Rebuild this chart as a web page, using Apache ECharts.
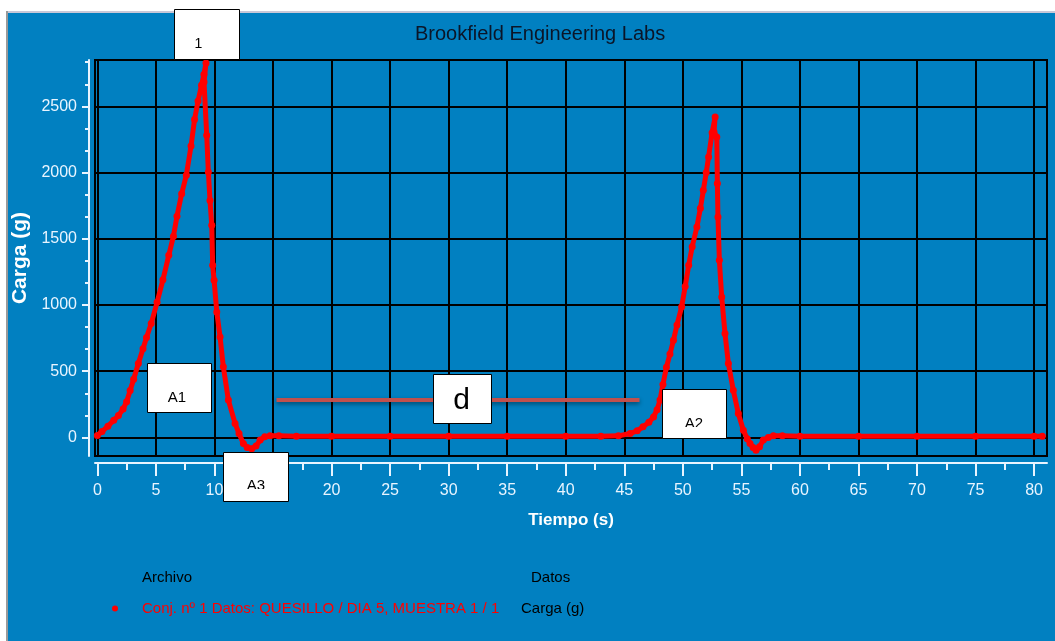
<!DOCTYPE html>
<html>
<head>
<meta charset="utf-8">
<script src="https://cdn.jsdelivr.net/npm/echarts@6/dist/echarts.min.js"></script>
<style>
html, body { margin: 0; padding: 0; background: #fff; }
#chart { width: 1055px; height: 641px; }
</style>
</head>
<body>
<div id="chart"></div>
<script>
var titulo = 'Brookfield Engineering Labs'
var nombreSerie = 'Conj. nº 1 Datos: QUESILLO / DIA 5, MUESTRA 1 / 1'
var nombreX = 'Tiempo (s)'
var nombreY = 'Carga (g)'

var tiempo = [0.0, 0.4, 0.9, 1.4, 1.8, 2.2, 2.5, 2.8, 3.1, 3.5, 3.9, 4.2, 4.6, 5.1, 5.6, 6.1, 6.5, 6.8, 7.2, 7.6,
    8.0, 8.3, 8.6, 8.9, 9.1, 9.28, 9.11, 9.34, 9.48, 9.62, 9.77, 9.85, 9.97, 10.2, 10.48, 10.76, 11.19, 11.76, 12.1, 12.47,
    12.8, 13.18, 13.55, 13.9, 14.3, 14.75, 15.5, 17, 20, 25, 30, 35, 40, 43, 44.5, 45.5, 46.1, 46.6, 47.1, 47.5,
    47.8, 48.05, 48.3, 48.6, 48.9, 49.2, 49.5, 49.9, 50.2, 50.5, 50.8, 51.2, 51.5, 51.75, 52.0, 52.2, 52.5, 52.76, 52.66, 52.9,
    52.95, 53.0, 53.12, 53.32, 53.6, 53.89, 54.31, 54.74, 55.17, 55.5, 55.74, 56.0, 56.25, 56.55, 56.87, 57.3, 57.73, 58.5, 60, 65,
    70, 75, 80, 80.7]
var carga = [15, 45, 85, 130, 165, 215, 270, 355, 440, 558, 670, 755, 860, 1020, 1190, 1375, 1520, 1670, 1840, 1980,
    2200, 2400, 2540, 2660, 2740, 2827, 2684, 2282, 2005, 1790, 1602, 1300, 1187, 948, 759, 533, 282, 106, 30, -45,
    -75, -85, -65, -20, 5, 12, 12, 10, 10, 10, 10, 10, 10, 10, 12, 30, 50, 80, 115, 155,
    210, 282, 400, 530, 630, 734, 850, 986, 1140, 1300, 1440, 1589, 1730, 1866, 2000, 2118, 2300, 2420, 2306, 2269,
    1917, 1665, 1338, 1061, 785, 558, 357, 181, 55, -10, -45, -75, -96, -70, -20, 0, 12, 12, 10, 10,
    10, 10, 10, 10]

var ticksX = [0, 5, 10, 15, 20, 25, 30, 35, 40, 45, 50, 55, 60, 65, 70, 75, 80]
var ticksXMenores = [2.5, 7.5, 12.5, 17.5, 22.5, 27.5, 32.5, 37.5, 42.5, 47.5, 52.5, 57.5, 62.5, 67.5, 72.5, 77.5]
var ticksY = [0, 500, 1000, 1500, 2000, 2500]
var ticksYMenores = [166.7, 333.3, 666.7, 833.3, 1166.7, 1333.3, 1666.7, 1833.3, 2166.7, 2333.3, 2666.7, 2833.3]

// linea "d" entre los dos picos (tiempo inicio, tiempo fin, carga)
var lineaD = [15.3, 46.3, 281]

var AZUL = '#0180c1'
var BLANCO_EJE = '#e8f4ff'
var ARIAL = "'Liberation Sans', Arial, sans-serif"

function caja(x, y, w, h, texto, cx, cy, size, corte) {
    var els = [{
        type: 'rect', z: 100,
        shape: { x: x + 0.5, y: y + 0.5, width: w, height: h },
        style: { fill: '#fff', stroke: '#000', lineWidth: 1 }
    }, {
        type: 'text', z: 101, x: cx, y: cy,
        style: { text: texto, fill: '#000', font: size + 'px ' + ARIAL, align: 'center', verticalAlign: 'middle' }
    }]
    if (corte) {
        els.push({
            type: 'rect', z: 102,
            shape: { x: x + 1.5, y: corte, width: w - 2, height: y + h - corte },
            style: { fill: '#fff' }
        })
    }
    return els
}

var chart = echarts.init(document.getElementById('chart'))

var datos = tiempo.map(function(t, i) { return [t, carga[i]] })

var graficos = [
    { type: 'rect', shape: { x: 0, y: 0, width: 1055, height: 11 }, style: { fill: '#fff' } },
    { type: 'rect', shape: { x: 0, y: 11, width: 1055, height: 2 }, style: { fill: '#c8c8d8' } },
    { type: 'rect', shape: { x: 0, y: 0, width: 6, height: 641 }, style: { fill: '#fff' } },
    { type: 'rect', shape: { x: 6, y: 11, width: 2, height: 630 }, style: { fill: '#9a9a9a' } },
    { type: 'text', x: 142, y: 578, style: { text: 'Archivo', fill: '#000', font: '15px ' + ARIAL, verticalAlign: 'middle' } },
    { type: 'text', x: 531, y: 578, style: { text: 'Datos', fill: '#000', font: '15px ' + ARIAL, verticalAlign: 'middle' } },
    { type: 'text', x: 521, y: 609, style: { text: 'Carga (g)', fill: '#000', font: '15px ' + ARIAL, verticalAlign: 'middle' } }
]
graficos = graficos
    .concat(caja(174, 9, 65, 50, '1', 198.5, 44, 14))
    .concat(caja(147, 363, 64, 49, 'A1', 177, 398, 15))
    .concat(caja(223, 452, 65, 49, 'A3', 256, 486, 15, 489))
    .concat(caja(662, 389, 64, 49, 'A2', 694, 424, 15, 427))
    .concat(caja(433, 374, 58, 49, 'd', 461.5, 401, 30))

chart.setOption({
    backgroundColor: AZUL,
    animation: false,
    title: {
        text: titulo,
        left: 415, top: 24, padding: 0,
        textStyle: { color: '#0b1528', fontFamily: ARIAL, fontSize: 20, fontWeight: 'normal' }
    },
    legend: {
        data: [{ name: nombreSerie, icon: 'circle' }],
        left: 112, top: 601, padding: 0,
        itemWidth: 6, itemHeight: 6,
        selectedMode: false,
        textStyle: { color: '#ff0000', fontFamily: ARIAL, fontSize: 15, padding: [0, 0, 0, 19] }
    },
    grid: {
        left: 95, right: 8, top: 60, bottom: 185,
        outerBoundsMode: 'none', containLabel: false,
        show: true, borderColor: '#000', borderWidth: 2, backgroundColor: 'transparent'
    },
    xAxis: [{
        type: 'value', min: -0.2, max: 81.1,
        position: 'bottom', offset: 7,
        name: nombreX, nameLocation: 'middle', nameGap: 49,
        nameTextStyle: { color: '#fff', fontFamily: ARIAL, fontSize: 17, fontWeight: 'bold' },
        axisLine: { show: true, onZero: false, lineStyle: { color: BLANCO_EJE, width: 2 } },
        axisTick: { show: true, customValues: ticksX, length: 13, lineStyle: { color: BLANCO_EJE, width: 2 } },
        axisLabel: {
            customValues: ticksX, margin: 20, color: BLANCO_EJE, fontFamily: ARIAL, fontSize: 16,
            formatter: function(v) { return String(v) }
        },
        splitLine: { show: true, lineStyle: { color: '#000', width: 2 } }
    }, {
        type: 'value', min: -0.2, max: 81.1,
        position: 'bottom', offset: 7,
        axisLine: { show: false, onZero: false },
        axisTick: { show: true, customValues: ticksXMenores, length: 7, lineStyle: { color: BLANCO_EJE, width: 2 } },
        axisLabel: { show: false },
        splitLine: { show: false }
    }],
    yAxis: [{
        type: 'value', min: -140, max: 2850,
        position: 'left', offset: 6,
        name: nombreY, nameLocation: 'middle', nameGap: 47, nameRotate: 90,
        nameTextStyle: { color: '#fff', fontFamily: ARIAL, fontSize: 21, fontWeight: 'bold' },
        axisLine: { show: true, onZero: false, lineStyle: { color: BLANCO_EJE, width: 2 } },
        axisTick: { show: true, customValues: ticksY, length: 7, lineStyle: { color: BLANCO_EJE, width: 2 } },
        axisLabel: {
            customValues: ticksY, margin: 12, color: BLANCO_EJE, fontFamily: ARIAL, fontSize: 16,
            formatter: function(v) { return String(v) }
        },
        splitLine: { show: true, lineStyle: { color: '#000', width: 2 } }
    }, {
        type: 'value', min: -140, max: 2850,
        position: 'left', offset: 6,
        axisLine: { show: false, onZero: false },
        axisTick: { show: true, customValues: ticksYMenores, length: 4, lineStyle: { color: BLANCO_EJE, width: 2 } },
        axisLabel: { show: false },
        splitLine: { show: false }
    }],
    series: [{
        name: nombreSerie,
        type: 'line',
        data: datos,
        symbol: 'circle',
        symbolSize: 7,
        showAllSymbol: true,
        itemStyle: { color: '#ff0000' },
        lineStyle: { color: '#ff0000', width: 5 },
        markLine: {
            silent: true,
            symbol: 'none',
            label: { show: false },
            lineStyle: { color: '#c0504d', width: 4, type: 'solid', shadowBlur: 4, shadowColor: 'rgba(0,0,0,0.45)', shadowOffsetY: 2 },
            data: [[{ coord: [lineaD[0], lineaD[2]] }, { coord: [lineaD[1], lineaD[2]] }]]
        }
    }],
    graphic: graficos
})
</script>
</body>
</html>
